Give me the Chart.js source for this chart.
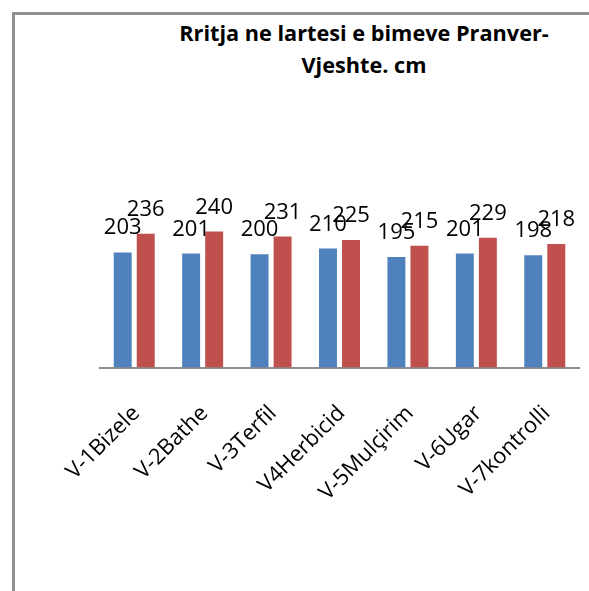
<!DOCTYPE html>
<html>
<head>
<meta charset="utf-8">
<script src="https://cdn.jsdelivr.net/npm/chart.js@4/dist/chart.umd.min.js"></script>
<style>
    * {
        margin: 0;
        padding: 0;
    }

    html, body {
        width: 589px;
        height: 591px;
        overflow: hidden;
        background: #fff;
    }

    body {
        position: relative;
        font-family: "Open Sans", sans-serif;
    }

    .frame {
        position: absolute;
        left: 12px;
        top: 12px;
        width: 574px;
        height: 576px;
        border-left: 3px solid #8f8f8f;
        border-top: 3px solid #8f8f8f;
    }

    .title {
        position: absolute;
        left: 164px;
        top: 17px;
        width: 400px;
        text-align: center;
        font-weight: bold;
        font-size: 21.7px;
        line-height: 32px;
        white-space: nowrap;
        color: #000;
    }

    .chart-box {
        position: absolute;
        left: 0;
        top: 0;
        width: 589px;
        height: 591px;
    }
</style>
</head>
<body>

<div class="frame"></div>
<div class="title">Rritja ne lartesi e bimeve Pranver-<br>Vjeshte. cm</div>
<div class="chart-box"><canvas id="mainChart"></canvas></div>

<script>
//  D A T A  //
const categories = ["V-1Bizele", "V-2Bathe", "V-3Terfil", "V4Herbicid", "V-5Mulçirim", "V-6Ugar", "V-7kontrolli"];
const pranvera = [203, 201, 200, 210, 195, 201, 198];
const vjeshta = [236, 240, 231, 225, 215, 229, 218];

const yMin = 0;
const yMax = 300;


//  value labels above the bars (Excel "outside end")  //
const valueLabels = {
    id: "valueLabels",
    afterDatasetsDraw(chart) {
        const ctx = chart.ctx;
        ctx.save();
        ctx.font = '22px "Open Sans"';
        ctx.fillStyle = "#000";
        ctx.textAlign = "center";
        ctx.textBaseline = "alphabetic";
        chart.data.datasets.forEach((ds, i) => {
            const meta = chart.getDatasetMeta(i);
            meta.data.forEach((bar, j) => {
                ctx.fillText(String(ds.data[j]), bar.x, bar.y - 18);
            });
        });
        ctx.restore();
    }
};


const ctx = document.getElementById("mainChart").getContext("2d");
new Chart(ctx, {
    type: "bar",
    data: {
        labels: categories,
        datasets: [{
            label: "Pranver",
            data: pranvera,
            backgroundColor: "#4f81bd",
            borderWidth: 0,
            categoryPercentage: 0.673,
            barPercentage: 0.78
        }, {
            label: "Vjeshte",
            data: vjeshta,
            backgroundColor: "#c0504d",
            borderWidth: 0,
            categoryPercentage: 0.673,
            barPercentage: 0.78
        }]
    },
    options: {
        responsive: true,
        maintainAspectRatio: false,
        animation: false,
        layout: {
            padding: { left: 100, right: 10, top: 197.5, bottom: 0 }
        },
        plugins: {
            legend: { display: false },
            title: { display: false },
            tooltip: { enabled: false }
        },
        scales: {
            x: {
                grid: { display: false, drawTicks: false },
                border: { display: true, color: "#8c8c8c", width: 2 },
                ticks: {
                    color: "#000",
                    font: { family: "Open Sans", size: 22 },
                    minRotation: 45,
                    maxRotation: 45,
                    autoSkip: false,
                    padding: 33,
                    labelOffset: 2
                },
                afterFit: (scale) => {
                    scale.height = 223.5;
                    scale.paddingLeft = 0;
                    scale.paddingRight = 0;
                }
            },
            y: {
                display: false,
                min: yMin,
                max: yMax
            }
        }
    },
    plugins: [valueLabels]
});
</script>
</body>
</html>
